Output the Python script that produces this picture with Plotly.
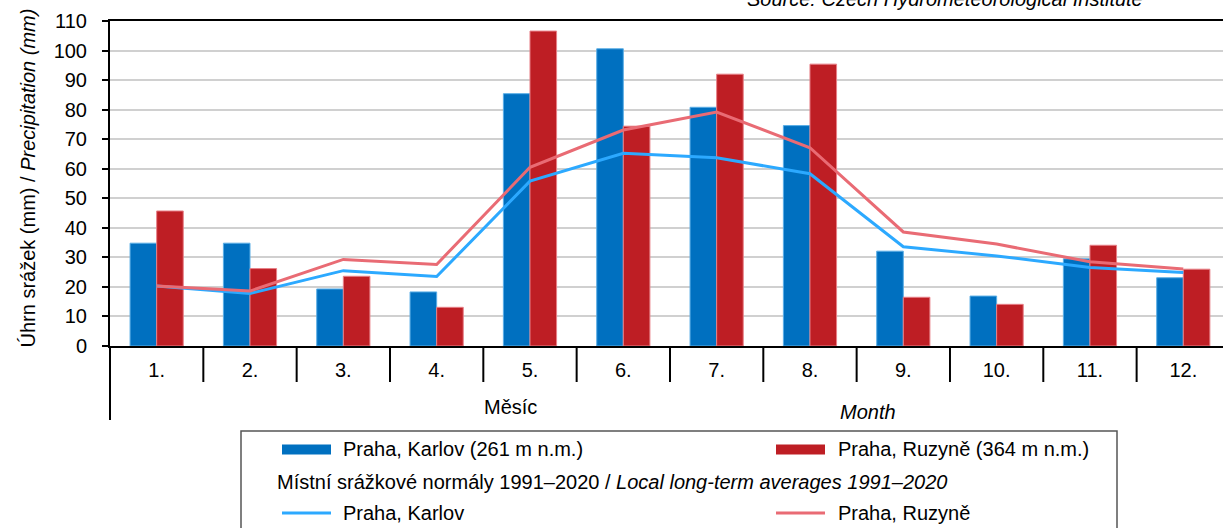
import plotly.graph_objects as go

months = ["1.", "2.", "3.", "4.", "5.", "6.", "7.", "8.", "9.", "10.", "11.", "12."]
karlov = [34.8, 34.8, 19.3, 18.3, 85.4, 100.6, 80.8, 74.6, 32.1, 16.9, 29.5, 23.1]
ruzyne = [45.7, 26.2, 23.6, 13.1, 106.6, 74.4, 92.0, 95.4, 16.5, 14.1, 34.1, 26.0]
karlov_norm = [20.3, 17.8, 25.5, 23.5, 55.8, 65.2, 63.7, 58.3, 33.6, 30.5, 26.6, 24.9]
ruzyne_norm = [20.3, 18.6, 29.3, 27.6, 60.5, 73.1, 79.2, 67.1, 38.6, 34.5, 28.5, 26.1]

name_karlov = "Praha, Karlov (261 m n.m.)"
name_ruzyne = "Praha, Ruzyně (364 m n.m.)"
name_karlov_n = "Praha, Karlov"
name_ruzyne_n = "Praha, Ruzyně"
legend_mid = "Místní srážkové normály 1991–2020 / <i>Local long-term averages 1991–2020</i>"
y_title = "Úhrn srážek (mm) / <i>Precipitation (mm)</i>"
source = "<i>Source: Czech Hydrometeorological Institute</i>"

C_K = "#0070C0"
C_R = "#BE1E24"
C_KN = "#2CA9FF"
C_RN = "#E96B74"
FONT = "Arial, Liberation Sans, sans-serif"

W, H = 1223, 528
L, T, R = 110, 21, 0
B = 182
PW = W - L - R
PH = H - T - B


def px(x):
    return (x - L) / PW


def py(y):
    return (H - B - y) / PH


fig = go.Figure()
fig.add_trace(go.Bar(x=months, y=karlov, name=name_karlov, marker=dict(color=C_K, line=dict(color="#5aaee6", width=1))))
fig.add_trace(go.Bar(x=months, y=ruzyne, name=name_ruzyne, marker=dict(color=C_R, line=dict(color="#e88088", width=1))))
fig.add_trace(go.Scatter(x=months, y=karlov_norm, name=name_karlov_n, mode="lines", line=dict(color=C_KN, width=3)))
fig.add_trace(go.Scatter(x=months, y=ruzyne_norm, name=name_ruzyne_n, mode="lines", line=dict(color=C_RN, width=3)))

n = len(months)
cat_w = 93.33
xmax = -0.5 + PW / cat_w

shapes = []
# category separators below the axis
for i in range(n + 1):
    shapes.append(dict(type="line", xref="x", yref="paper", x0=i - 0.5, x1=i - 0.5,
                       y0=0, y1=py(382), line=dict(color="black", width=2)))
# long left line
shapes.append(dict(type="line", xref="paper", yref="paper", x0=0, x1=0, y0=0, y1=py(420),
                   line=dict(color="black", width=2)))
# legend box
shapes.append(dict(type="rect", xref="paper", yref="paper", x0=px(241), x1=px(1117), y0=py(431), y1=py(560),
                   line=dict(color="#555555", width=1.5), fillcolor="white"))
# legend swatches
shapes.append(dict(type="rect", xref="paper", yref="paper", x0=px(282), x1=px(331), y0=py(444.5), y1=py(454.5),
                   line=dict(width=0), fillcolor=C_K))
shapes.append(dict(type="rect", xref="paper", yref="paper", x0=px(776), x1=px(825), y0=py(444.5), y1=py(454.5),
                   line=dict(width=0), fillcolor=C_R))
shapes.append(dict(type="line", xref="paper", yref="paper", x0=px(282), x1=px(331), y0=py(513), y1=py(513),
                   line=dict(color=C_KN, width=3)))
shapes.append(dict(type="line", xref="paper", yref="paper", x0=px(776), x1=px(825), y0=py(513), y1=py(513),
                   line=dict(color=C_RN, width=3)))

tf = dict(family=FONT, size=20, color="black")
ann = []
ann.append(dict(xref="paper", yref="paper", x=px(341), y=py(448.5), text=name_karlov, showarrow=False,
                xanchor="left", yanchor="middle", font=tf))
ann.append(dict(xref="paper", yref="paper", x=px(836), y=py(448.5), text=name_ruzyne, showarrow=False,
                xanchor="left", yanchor="middle", font=tf))
ann.append(dict(xref="paper", yref="paper", x=px(275), y=py(482), text=legend_mid, showarrow=False,
                xanchor="left", yanchor="middle", font=tf))
ann.append(dict(xref="paper", yref="paper", x=px(341), y=py(513), text=name_karlov_n, showarrow=False,
                xanchor="left", yanchor="middle", font=tf))
ann.append(dict(xref="paper", yref="paper", x=px(836), y=py(513), text=name_ruzyne_n, showarrow=False,
                xanchor="left", yanchor="middle", font=tf))
ann.append(dict(xref="paper", yref="paper", x=px(510), y=py(407), text="Měsíc", showarrow=False,
                xanchor="center", yanchor="middle", font=tf))
ann.append(dict(xref="paper", yref="paper", x=px(868), y=py(412), text="<i>Month</i>", showarrow=False,
                xanchor="center", yanchor="middle", font=tf))
ann.append(dict(xref="paper", yref="paper", x=px(27), y=py(178.5), text=y_title, showarrow=False,
                textangle=-90, xanchor="center", yanchor="middle", font=tf))
ann.append(dict(xref="paper", yref="paper", x=px(945), y=py(-1), text=source, showarrow=False,
                xanchor="center", yanchor="middle", font=tf))

fig.update_layout(
    width=W, height=H, autosize=False,
    margin=dict(l=L, r=R, t=T, b=B, pad=0),
    paper_bgcolor="white", plot_bgcolor="white",
    barmode="group", bargap=0.43, bargroupgap=0,
    showlegend=False,
    font=dict(family=FONT, size=20, color="black"),
    shapes=shapes, annotations=ann,
    xaxis=dict(type="category", range=[-0.5, xmax], showgrid=False, ticks="",
               showline=True, mirror=True, linecolor="black", linewidth=2,
               tickfont=dict(family=FONT, size=20, color="black"), ticklabelstandoff=5,
               zeroline=False, fixedrange=True),
    yaxis=dict(range=[0, 110], dtick=10, tick0=0, showgrid=True, gridcolor="#d0d0d0", gridwidth=1.5,
               showline=True, linecolor="black", linewidth=2, ticks="outside", ticklen=6,
               tickcolor="black", tickwidth=1.5, ticklabelstandoff=11,
               tickfont=dict(family=FONT, size=20, color="black"), zeroline=False, fixedrange=True),
)

fig.write_html("out.html", config={"displayModeBar": False},
               post_script="document.body.style.margin='0';document.body.style.overflow='hidden';")
